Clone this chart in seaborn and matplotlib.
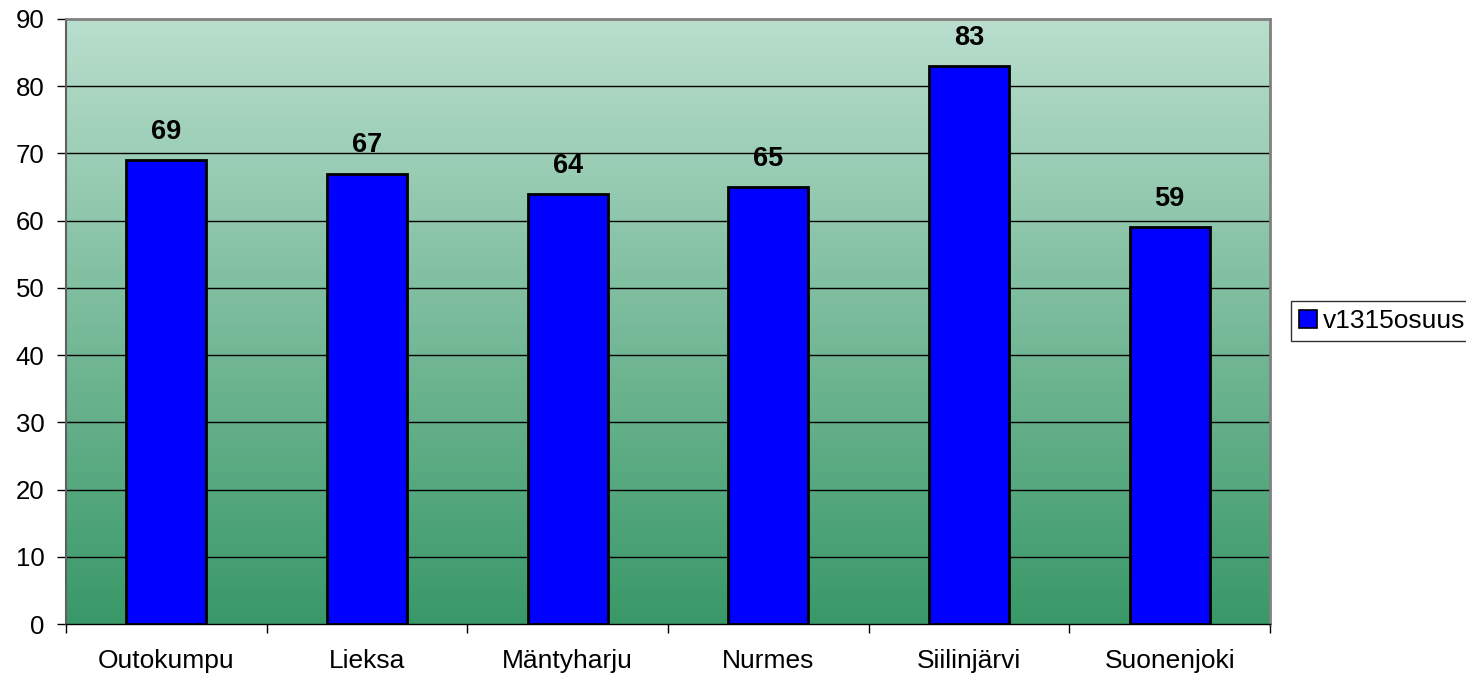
import numpy as np
import pandas as pd
import matplotlib
matplotlib.use("Agg")
import matplotlib.pyplot as plt
import matplotlib.patches as mpatches
from matplotlib.colors import LinearSegmentedColormap
import seaborn as sns

categories = ["Outokumpu", "Lieksa", "Mäntyharju", "Nurmes", "Siilinjärvi", "Suonenjoki"]
values = [69, 67, 64, 65, 83, 59]
series_name = "v1315osuus"
yticks = [0, 10, 20, 30, 40, 50, 60, 70, 80, 90]

sns.set_style("white")
plt.rcParams["font.family"] = ["Liberation Sans", "DejaVu Sans"]
plt.rcParams["text.color"] = "black"
plt.rcParams["xtick.color"] = "black"
plt.rcParams["ytick.color"] = "black"
plt.rcParams["xtick.labelcolor"] = "black"
plt.rcParams["ytick.labelcolor"] = "black"

df = pd.DataFrame({"kunta": categories, "arvo": values})

fig = plt.figure(figsize=(14.66, 6.82), dpi=100)
ax = fig.add_axes([66/1466, 1-624/682, (1270-66)/1466, (624-19)/682])

# gradient background
cmap = LinearSegmentedColormap.from_list("g", ["#399868", "#b9decd"])
grad = np.linspace(0, 1, 256).reshape(-1, 1)
ax.imshow(grad, aspect="auto", cmap=cmap, origin="lower",
          extent=[0, 1, 0, 1], transform=ax.transAxes, zorder=0)

sns.barplot(data=df, x="kunta", y="arvo", color="#0000ff", saturation=1,
            edgecolor="black", linewidth=2, width=0.4, ax=ax, zorder=3)

ax.set_xlim(-0.5, len(categories) - 0.5)
ax.set_ylim(0, 90)
ax.set_yticks(yticks)
ax.set_xlabel("")
ax.set_ylabel("")

for y in yticks[1:-1]:
    ax.axhline(y, color="black", linewidth=1, zorder=1)

for i, v in enumerate(values):
    ax.text(i, v + 4.2, str(v), ha="center", va="center", fontsize=19.5,
            fontweight="bold", color="black", zorder=4)

ax.tick_params(axis="y", which="major", direction="out", length=6.5, width=1,
               color="black", labelsize=18.5, pad=9, left=True)
ax.tick_params(axis="x", which="major", length=0, labelsize=19, pad=18)
ax.set_xticks(np.arange(-0.5, len(categories)), minor=True)
ax.tick_params(axis="x", which="minor", direction="out", length=6.5, width=1,
               color="black", bottom=True)

for s in ["top", "right"]:
    ax.spines[s].set_color("#808080")
    ax.spines[s].set_linewidth(2)
ax.spines["left"].set_color("#606060")
ax.spines["left"].set_linewidth(1.5)
ax.spines["bottom"].set_color("black")
ax.spines["bottom"].set_linewidth(1)

handle = mpatches.Patch(facecolor="#0000ff", edgecolor="black", linewidth=1.2,
                        label=series_name)
leg = fig.legend(handles=[handle], loc="center left",
                 bbox_to_anchor=(1291/1466, 1-321/682), frameon=True,
                 fancybox=False, edgecolor="black", fontsize=19,
                 handlelength=0.7, handleheight=0.7, handletextpad=0.2,
                 borderpad=0.3, borderaxespad=0)
leg.get_frame().set_linewidth(1)

fig.savefig("out.png", dpi=100)
